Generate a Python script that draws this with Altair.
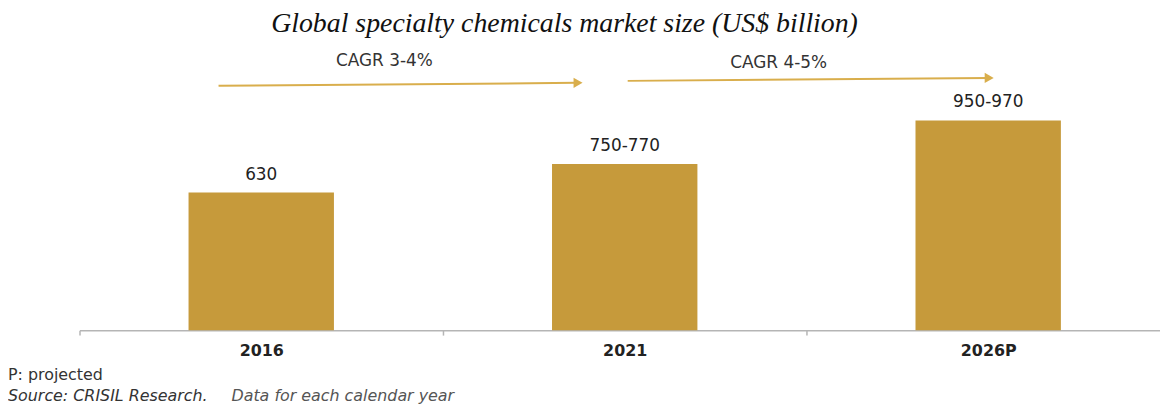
import altair as alt
import pandas as pd

years = ["2016", "2021", "2026P"]
values = [630, 760, 960]
value_labels = ["630", "750-770", "950-970"]

cagr_from = ["2016", "2021"]
cagr_to = ["2021", "2026P"]
cagr_labels = ["CAGR 3-4%", "CAGR 4-5%"]

notes = ["P: projected"]
source_a = ["Source: CRISIL Research."]
source_b = ["Data for each calendar year"]

bars_df = pd.DataFrame({"year": years, "value": values, "label": value_labels})
cagr_df = pd.DataFrame({"from": cagr_from, "to": cagr_to, "label": cagr_labels})

BAR = "#C69A3B"
ARROW = "#D9AE4C"
FONT = "DejaVu Sans"

xscale = alt.Scale(domain=years, paddingInner=0, paddingOuter=0, range=[0, 1098])
yscale = alt.Scale(domain=[0, 1000])

x = alt.X("year:N", scale=xscale, sort=years, title=None,
          axis=alt.Axis(labelAngle=0, labelFont=FONT, labelFontSize=16, labelColor="#222",
                        labelFontWeight="bold", labelPadding=8,
                        domainColor="#b5b5b5", domainWidth=1.5, tickColor="#b5b5b5",
                        tickWidth=1.5, tickSize=5, tickBand="extent", grid=False))

bars = alt.Chart(bars_df).mark_bar(color=BAR, width=alt.RelativeBandSize(0.4)).encode(
    x=x,
    y=alt.Y("value:Q", scale=yscale, axis=None),
)

labels = alt.Chart(bars_df).mark_text(font=FONT, fontSize=17, color="#222", baseline="bottom", dy=-9).encode(
    x=alt.X("year:N", scale=xscale, sort=years),
    y=alt.Y("value:Q", scale=yscale),
    text="label:N",
)

arrow1 = alt.Chart(cagr_df.iloc[[0]]).mark_rule(color=ARROW, strokeWidth=2, xOffset=-43, x2Offset=-48).encode(
    x=alt.X("from:N", scale=xscale, sort=years),
    x2="to:N",
    y=alt.value(-26),
    y2=alt.value(-29),
)
head1 = alt.Chart(cagr_df.iloc[[0]]).mark_point(shape="triangle-right", filled=True, color=ARROW,
                                                  size=110, opacity=1, xOffset=-47).encode(
    x=alt.X("to:N", scale=xscale, sort=years),
    y=alt.value(-29),
)
arrow2 = alt.Chart(cagr_df.iloc[[1]]).mark_rule(color=ARROW, strokeWidth=2, xOffset=3, x2Offset=0).encode(
    x=alt.X("from:N", scale=xscale, sort=years),
    x2="to:N",
    y=alt.value(-31),
    y2=alt.value(-34),
)
head2 = alt.Chart(cagr_df.iloc[[1]]).mark_point(shape="triangle-right", filled=True, color=ARROW,
                                                  size=110, opacity=1, xOffset=1).encode(
    x=alt.X("to:N", scale=xscale, sort=years),
    y=alt.value(-34),
)
cagr1 = alt.Chart(cagr_df.iloc[[0]]).mark_text(font=FONT, fontSize=17, color="#333", xOffset=-59).encode(
    x=alt.X("from:N", scale=xscale, sort=years, bandPosition=1),
    y=alt.value(-51),
    text="label:N",
)
cagr2 = alt.Chart(cagr_df.iloc[[1]]).mark_text(font=FONT, fontSize=17, color="#333", xOffset=-28).encode(
    x=alt.X("from:N", scale=xscale, sort=years, bandPosition=1),
    y=alt.value(-49),
    text="label:N",
)

note = alt.Chart(pd.DataFrame({"t": notes})).mark_text(
    font=FONT, fontSize=16, color="#333", align="left", baseline="middle").encode(
    x=alt.value(-72), y=alt.value(265), text="t:N")
src_a = alt.Chart(pd.DataFrame({"t": source_a})).mark_text(
    font=FONT, fontSize=16, fontStyle="italic", color="#333", align="left", baseline="middle").encode(
    x=alt.value(-72), y=alt.value(286), text="t:N")
src_b = alt.Chart(pd.DataFrame({"t": source_b})).mark_text(
    font=FONT, fontSize=16, fontStyle="italic", color="#555", align="left", baseline="middle").encode(
    x=alt.value(153), y=alt.value(286), text="t:N")

chart = alt.layer(bars, labels, arrow1, head1, arrow2, head2, cagr1, cagr2, note, src_a, src_b).properties(
    width=1088,
    height=220,
    title=alt.Title("Global specialty chemicals market size (US$ billion)", font="Liberation Serif",
                    fontSize=28, fontStyle="italic", fontWeight="normal", color="#111",
                    anchor="start", dx=265, dy=-10),
    padding={"left": 72, "top": 103, "right": 0, "bottom": 74},
    autosize=alt.AutoSizeParams(type="none"),
).configure_view(stroke=None)

chart.save("out.html", embed_options={"renderer": "svg", "actions": False})
